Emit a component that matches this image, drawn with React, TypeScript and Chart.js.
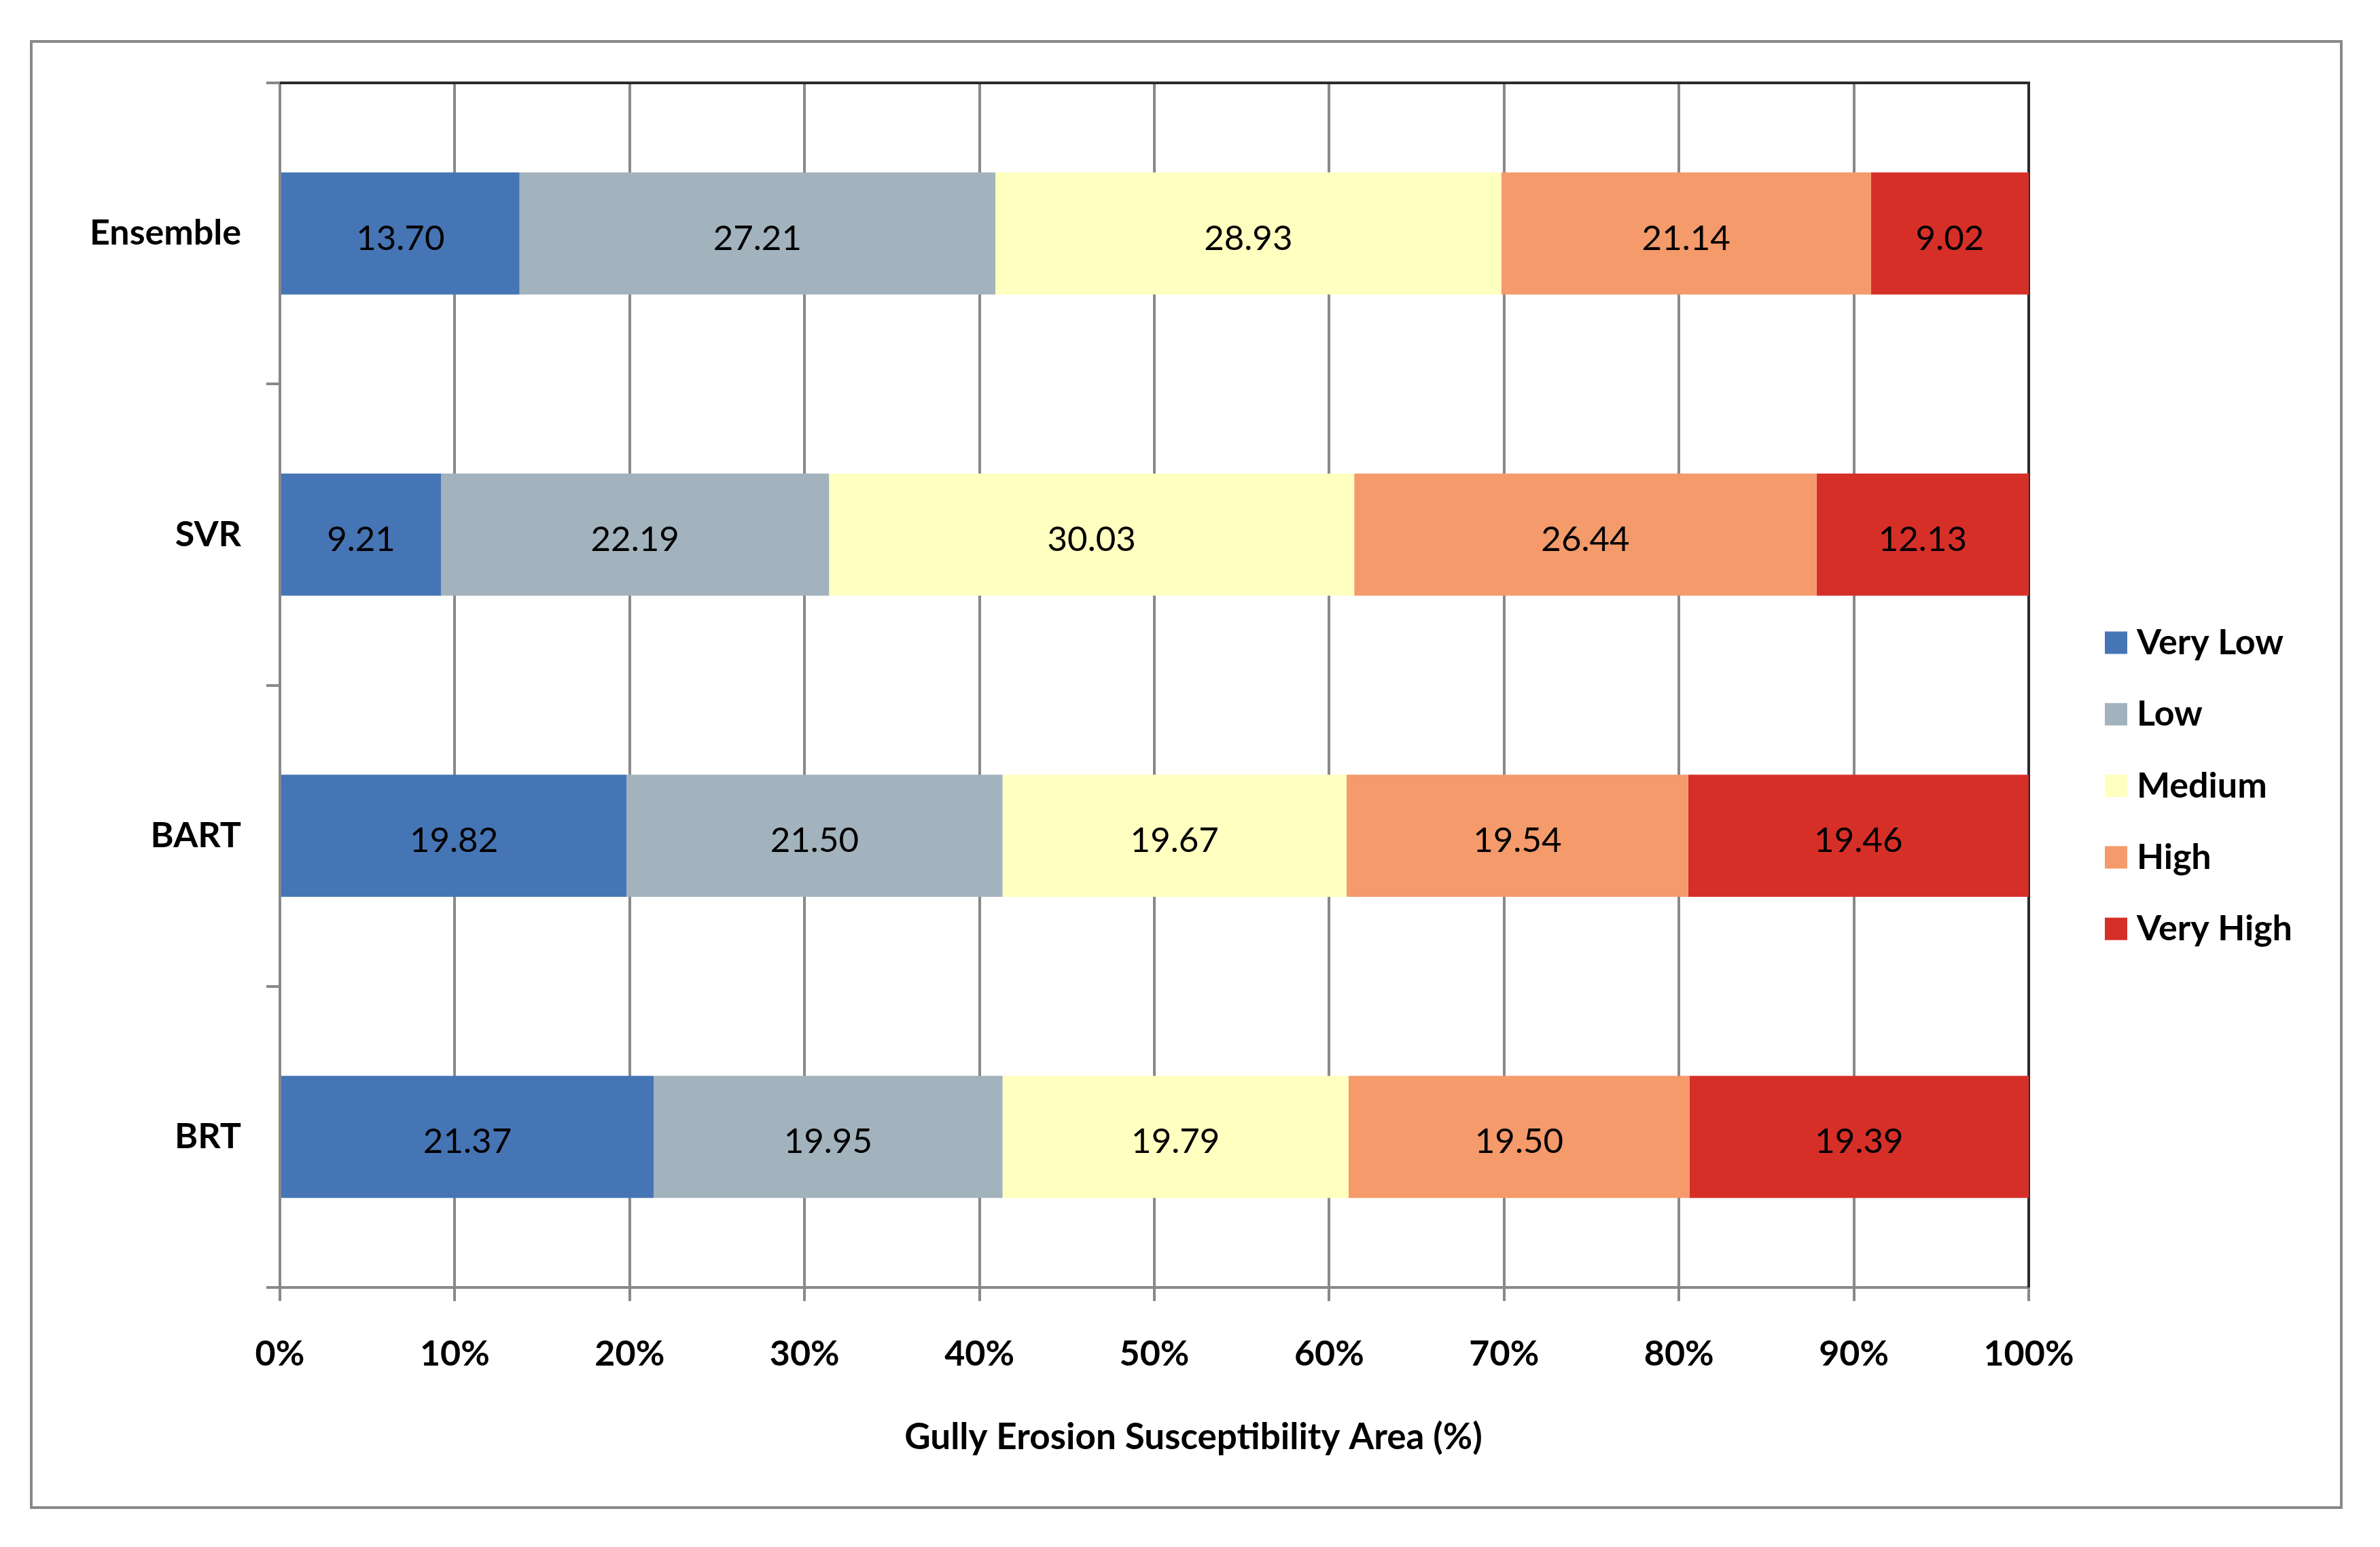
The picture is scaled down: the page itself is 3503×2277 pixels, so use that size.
import React, { useEffect, useRef } from "react";
import { Chart, registerables } from "chart.js";

Chart.register(...registerables);

const categories = ["Ensemble", "SVR", "BART", "BRT"];
const seriesNames = ["Very Low", "Low", "Medium", "High", "Very High"];
const veryLow = [13.7, 9.21, 19.82, 21.37];
const low = [27.21, 22.19, 21.5, 19.95];
const medium = [28.93, 30.03, 19.67, 19.79];
const high = [21.14, 26.44, 19.54, 19.5];
const veryHigh = [9.02, 12.13, 19.46, 19.39];
const seriesColors = ["#4675b5", "#a3b3bd", "#ffffc0", "#f49a6b", "#d62f28"];
const xTickValues = [0, 10, 20, 30, 40, 50, 60, 70, 80, 90, 100];
const xTitle = "Gully Erosion Susceptibility Area (%)";

const W = 3503;
const H = 2277;
const FONT = "Lato, 'Open Sans', sans-serif";
const GRID = "#898989";

const dataLabelPlugin = {
  id: "dataLabels",
  afterDatasetsDraw(chart: any) {
    const ctx = chart.ctx;
    ctx.save();
    ctx.font = `normal 51px ${FONT}`;
    ctx.fillStyle = "#000";
    ctx.textAlign = "center";
    ctx.textBaseline = "alphabetic";
    chart.data.datasets.forEach((ds: any, i: number) => {
      const meta = chart.getDatasetMeta(i);
      meta.data.forEach((bar: any, j: number) => {
        const { x, base, y } = bar.getProps(["x", "base", "y"], true);
        const v = ds.data[j];
        ctx.fillText(Number(v).toFixed(2), (x + base) / 2, y + 24);
      });
    });
    ctx.restore();
  },
};

const framePlugin = {
  id: "frame",
  beforeDatasetsDraw(chart: any) {
    const { ctx, chartArea } = chart;
    ctx.save();
    ctx.strokeStyle = "#2b2b2b";
    ctx.lineWidth = 4;
    ctx.beginPath();
    ctx.moveTo(chartArea.left, chartArea.top);
    ctx.lineTo(chartArea.right, chartArea.top);
    ctx.lineTo(chartArea.right, chartArea.bottom);
    ctx.stroke();
    ctx.restore();
  },
};

const legendTitlePlugin = {
  id: "legendTitle",
  afterDraw(chart: any) {
    const { ctx, chartArea } = chart;
    ctx.save();
    // axis title
    ctx.font = `bold 53px ${FONT}`;
    ctx.fillStyle = "#000";
    ctx.textAlign = "center";
    ctx.textBaseline = "alphabetic";
    ctx.fillText(xTitle, chart.width / 2 + 5, 2133);
    // legend
    ctx.font = `bold 52px ${FONT}`;
    const boxX = chartArea.right + 112;
    const box = 33;
    chart.data.datasets.forEach((ds: any, i: number) => {
      const cy = 946 + i * 105.3;
      ctx.fillStyle = ds.backgroundColor;
      ctx.fillRect(boxX, cy - box / 2, box, box);
      ctx.fillStyle = "#000";
      ctx.textAlign = "left";
      ctx.fillText(ds.label, boxX + box + 14, cy + 17);
    });
    ctx.restore();
  },
};

export default function App() {
  const ref = useRef<HTMLCanvasElement>(null);

  useEffect(() => {
    if (!ref.current) return;
    const values = [veryLow, low, medium, high, veryHigh];
    const chart = new Chart(ref.current, {
      type: "bar",
      data: {
        labels: categories,
        datasets: seriesNames.map((name, i) => ({
          label: name,
          data: values[i],
          backgroundColor: seriesColors[i],
          borderWidth: 0,
          barPercentage: 0.406,
          categoryPercentage: 1,
        })),
      },
      options: {
        indexAxis: "y",
        responsive: false,
        animation: false,
        devicePixelRatio: 1,
        layout: { padding: { left: 0, top: 122, right: W - 2986, bottom: 0 } },
        plugins: {
          legend: { display: false },
          tooltip: { enabled: false },
          title: { display: false },
        },
        scales: {
          x: {
            type: "linear",
            stacked: true,
            min: 0,
            max: 100,
            afterBuildTicks: (s: any) => {
              s.ticks = xTickValues.map((v) => ({ value: v }));
            },
            afterFit: (s: any) => {
              s.height = 382;
            },
            ticks: {
              callback: (v: any) => `${v}%`,
              color: "#000",
              font: { family: FONT, size: 52, weight: "bold" },
              padding: 47,
              maxRotation: 0,
            },
            grid: {
              color: GRID,
              lineWidth: 4,
              drawTicks: true,
              tickLength: 20,
            },
            border: { display: true, color: GRID, width: 4 },
          },
          y: {
            type: "category",
            stacked: true,
            offset: true,
            afterFit: (s: any) => {
              s.width = 412;
            },
            ticks: {
              color: "#000",
              font: { family: FONT, size: 52, weight: "bold" },
              padding: 37,
            },
            grid: {
              offset: true,
              drawOnChartArea: false,
              drawTicks: true,
              tickLength: 20,
              color: GRID,
              lineWidth: 4,
            },
            border: { display: true, color: GRID, width: 4 },
          },
        },
      },
      plugins: [framePlugin, dataLabelPlugin, legendTitlePlugin],
    });
    return () => chart.destroy();
  }, []);

  return (
    <div
      style={{
        position: "absolute",
        left: 0,
        top: 0,
        width: W,
        height: H,
        overflow: "hidden",
        background: "#fff",
      }}
    >
      <div
        style={{
          position: "absolute",
          left: 44,
          top: 59,
          width: 3404,
          height: 2162,
          border: "4px solid #898989",
          boxSizing: "border-box",
        }}
      />
      <canvas
        ref={ref}
        width={W}
        height={H}
        style={{ position: "absolute", left: 0, top: 0, width: W, height: H }}
      />
    </div>
  );
}
